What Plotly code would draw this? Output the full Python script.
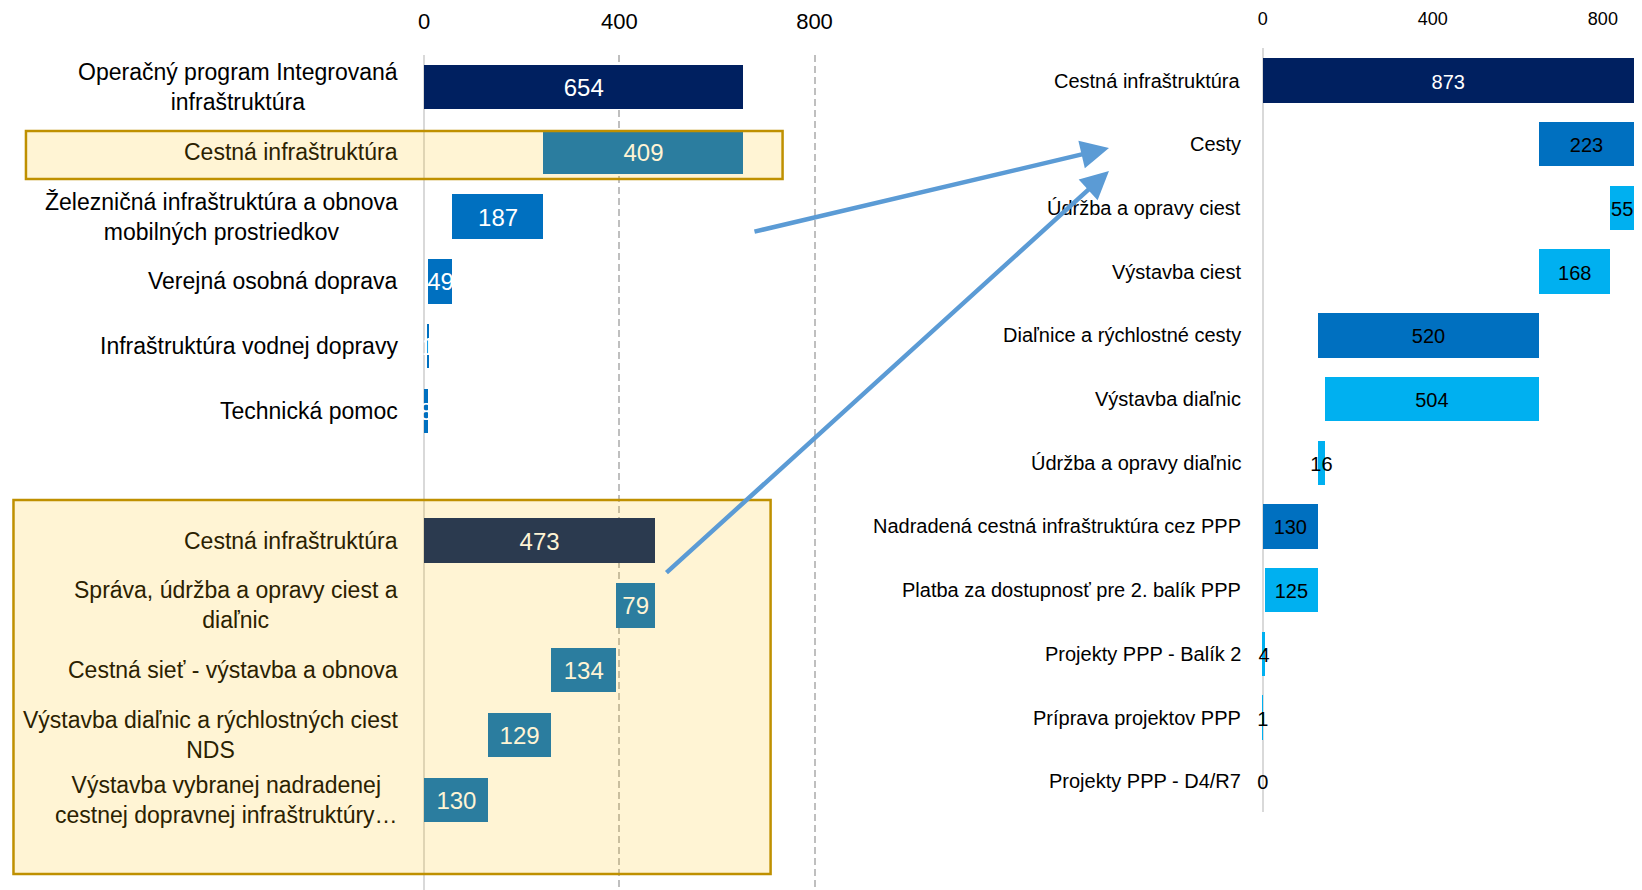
import plotly.graph_objects as go

# ---------------- data ----------------
left_top_labels = [
    "Operačný program Integrovaná<br>infraštruktúra",
    "Cestná infraštruktúra",
    "Železničná infraštruktúra a obnova<br>mobilných prostriedkov",
    "Verejná osobná doprava",
    "Infraštruktúra vodnej dopravy",
    "Technická pomoc",
]
left_top_values = [654, 409, 187, 49, 1, 8]

left_bottom_labels = [
    "Cestná infraštruktúra",
    "Správa, údržba a opravy ciest a<br>diaľnic",
    "Cestná sieť - výstavba a obnova",
    "Výstavba diaľnic a rýchlostných ciest<br>NDS",
    "Výstavba vybranej nadradenej<br>cestnej dopravnej infraštruktúry…",
]
left_bottom_values = [473, 79, 134, 129, 130]

right_labels = [
    "Cestná infraštruktúra",
    "Cesty",
    "Údržba a opravy ciest",
    "Výstavba ciest",
    "Diaľnice a rýchlostné cesty",
    "Výstavba diaľnic",
    "Údržba a opravy diaľnic",
    "Nadradená cestná infraštruktúra cez PPP",
    "Platba za dostupnosť pre 2. balík PPP",
    "Projekty PPP - Balík 2",
    "Príprava projektov PPP",
    "Projekty PPP - D4/R7",
]
right_values = [873, 223, 55, 168, 520, 504, 16, 130, 125, 4, 1, 0]
right_levels = ["total", "group", "item", "item", "group", "item", "item",
                "group", "item", "item", "item", "item"]

x_ticks = [0, 400, 800]

# ---------------- styling / geometry ----------------
W, H = 1642, 890
FONT = "Liberation Sans Narrow, Arial Narrow, Liberation Sans, Arial, sans-serif"
NAVY, BLUE, CYAN = "#002060", "#0070C0", "#00B0F0"
ARROW = "#5B9BD5"
OVERLAY_RGB, OVERLAY_A = (255, 192, 0), 0.17
L_FS, L_DFS, L_TFS = 23, 24, 22
R_FS, R_DFS, R_TFS = 20, 20, 18
TEXT_DROP_PX = 3  # small downward nudge of in-bar value labels


def px(xp):
    return xp / W


def py(yp):
    return 1 - yp / H


def tint(rgb):
    r = [round((1 - OVERLAY_A) * c + OVERLAY_A * o) for c, o in zip(rgb, OVERLAY_RGB)]
    return "rgb(%d,%d,%d)" % tuple(r)


# left panel axis geometry (pixels)
L_X0, L_K = 422.0, 0.48875
L_RANGE = [-6, 860]
L_ROW0, L_STEP = 87.0, 64.8
L_TOP, L_BOT = 55.0, 890.0
# right panel
R_X0, R_K = 1262.0, 0.426
R_RANGE = [-20, 877]
R_ROW0, R_STEP = 80.5, 63.7
R_TOP, R_BOT = 48.0, 812.0

# highlight boxes (pixels): x0, y0, x1, y1
boxes = [(23, 131, 781, 179), (10.5, 500, 769, 874)]


def waterfall(values):
    bases, cur = [0], values[0]
    for v in values[1:]:
        cur -= v
        bases.append(cur)
    return bases


left_labels = left_top_labels + left_bottom_labels
left_values = left_top_values + left_bottom_values
left_bases = waterfall(left_top_values) + waterfall(left_bottom_values)
left_rows = list(range(len(left_top_values))) + [len(left_top_values) + 1 + i for i in range(len(left_bottom_values))]
left_colors = [NAVY if i == 0 else BLUE for i in range(len(left_top_values))] + \
              [NAVY if i == 0 else BLUE for i in range(len(left_bottom_values))]

right_bases = []
cur = right_values[0]
for v, lv in zip(right_values, right_levels):
    if lv == "total":
        right_bases.append(0)
    elif lv == "group":
        right_bases.append(cur - v)
    else:
        cur -= v
        right_bases.append(cur)
level_color = {"total": NAVY, "group": BLUE, "item": CYAN}
right_colors = [level_color[l] for l in right_levels]
right_text_colors = ["white" if l == "total" else "black" for l in right_levels]
right_rows = list(range(len(right_values)))

fig = go.Figure()

# left bars
fig.add_trace(go.Bar(
    orientation="h", y=left_rows, x=left_values, base=left_bases,
    marker=dict(color=left_colors, line=dict(width=0)), width=0.684,
    xaxis="x", yaxis="y", hoverinfo="skip", showlegend=False))
fig.add_trace(go.Scatter(
    mode="text", y=[r + TEXT_DROP_PX / L_STEP for r in left_rows],
    x=[b + v / 2 for b, v in zip(left_bases, left_values)],
    text=[str(v) for v in left_values],
    textfont=dict(family=FONT, size=L_DFS, color="white"),
    xaxis="x", yaxis="y", hoverinfo="skip", showlegend=False))

# right bars
fig.add_trace(go.Bar(
    orientation="h", y=right_rows, x=right_values, base=right_bases,
    marker=dict(color=right_colors, line=dict(width=0)), width=0.697,
    xaxis="x2", yaxis="y2", hoverinfo="skip", showlegend=False))
fig.add_trace(go.Scatter(
    mode="text", y=[r + TEXT_DROP_PX / R_STEP for r in right_rows],
    x=[b + v / 2 for b, v in zip(right_bases, right_values)],
    text=[str(v) for v in right_values],
    textfont=dict(family=FONT, size=R_DFS, color=right_text_colors),
    xaxis="x2", yaxis="y2", hoverinfo="skip", showlegend=False))

annotations = []
# left category labels
for lab, row in zip(left_labels, left_rows):
    ypix = L_ROW0 + L_STEP * row
    inside = any(b[1] <= ypix <= b[3] for b in boxes)
    annotations.append(dict(
        x=px(398), xref="paper", xanchor="right", y=row, yref="y", yanchor="middle",
        text=lab, showarrow=False, align="center",
        font=dict(family=FONT, size=L_FS, color=tint((0, 0, 0)) if inside else "black")))
# right category labels
for lab, row in zip(right_labels, right_rows):
    annotations.append(dict(
        x=px(1242), xref="paper", xanchor="right", y=row, yref="y2", yanchor="middle",
        text=lab, showarrow=False, align="right",
        font=dict(family=FONT, size=R_FS, color="black")))

# arrows (pixel geometry)
for (tx, ty), (hx, hy) in [((752, 232), (1108, 148)), ((664, 574), (1108, 171))]:
    annotations.append(dict(
        x=px(hx), y=py(hy), xref="paper", yref="paper", text="", showarrow=True,
        axref="pixel", ayref="pixel", ax=tx - hx, ay=ty - hy,
        arrowcolor=ARROW, arrowwidth=4.5, arrowhead=2, arrowsize=1.25, standoff=0))

shapes = []
for x0, y0, x1, y1 in boxes:
    shapes.append(dict(
        type="rect", xref="paper", yref="paper", x0=px(x0), x1=px(x1), y0=py(y1), y1=py(y0),
        fillcolor="rgba(%d,%d,%d,%.2f)" % (OVERLAY_RGB + (OVERLAY_A,)),
        line=dict(color="#BF9000", width=2.5), layer="above"))

fig.update_layout(
    width=W, height=H, margin=dict(l=0, r=0, t=0, b=0),
    paper_bgcolor="white", plot_bgcolor="rgba(0,0,0,0)",
    font=dict(family=FONT, color="black"),
    bargap=0,
    xaxis=dict(
        domain=[px(L_X0 + L_RANGE[0] * L_K), px(L_X0 + L_RANGE[1] * L_K)],
        range=L_RANGE, side="top", anchor="y",
        tickvals=x_ticks, ticktext=[str(t) for t in x_ticks],
        tickfont=dict(family=FONT, size=L_TFS, color="black"),
        ticks="outside", ticklen=16, tickcolor="rgba(0,0,0,0)",
        showgrid=True, gridcolor="#BFBFBF", gridwidth=1.5, griddash="7px,4px",
        zeroline=True, zerolinecolor="#D9D9D9", zerolinewidth=2,
        showline=False, fixedrange=True),
    yaxis=dict(
        domain=[py(L_BOT), py(L_TOP)],
        range=[(L_BOT - L_ROW0) / L_STEP, (L_TOP - L_ROW0) / L_STEP],
        anchor="x", showticklabels=False, showgrid=False, zeroline=False,
        showline=False, fixedrange=True),
    xaxis2=dict(
        domain=[px(R_X0 + R_RANGE[0] * R_K), px(R_X0 + R_RANGE[1] * R_K)],
        range=R_RANGE, side="top", anchor="y2",
        tickvals=x_ticks, ticktext=[str(t) for t in x_ticks],
        tickfont=dict(family=FONT, size=R_TFS, color="black"),
        ticks="outside", ticklen=15, tickcolor="rgba(0,0,0,0)",
        showgrid=False,
        zeroline=True, zerolinecolor="#D9D9D9", zerolinewidth=2,
        showline=False, fixedrange=True),
    yaxis2=dict(
        domain=[py(R_BOT), py(R_TOP)],
        range=[(R_BOT - R_ROW0) / R_STEP, (R_TOP - R_ROW0) / R_STEP],
        anchor="x2", showticklabels=False, showgrid=False, zeroline=False,
        showline=False, fixedrange=True),
    annotations=annotations,
    shapes=shapes,
)

fig.write_html("out.html", config={"displayModeBar": False},
               post_script="document.body.style.margin='0';document.body.style.overflow='hidden';")
